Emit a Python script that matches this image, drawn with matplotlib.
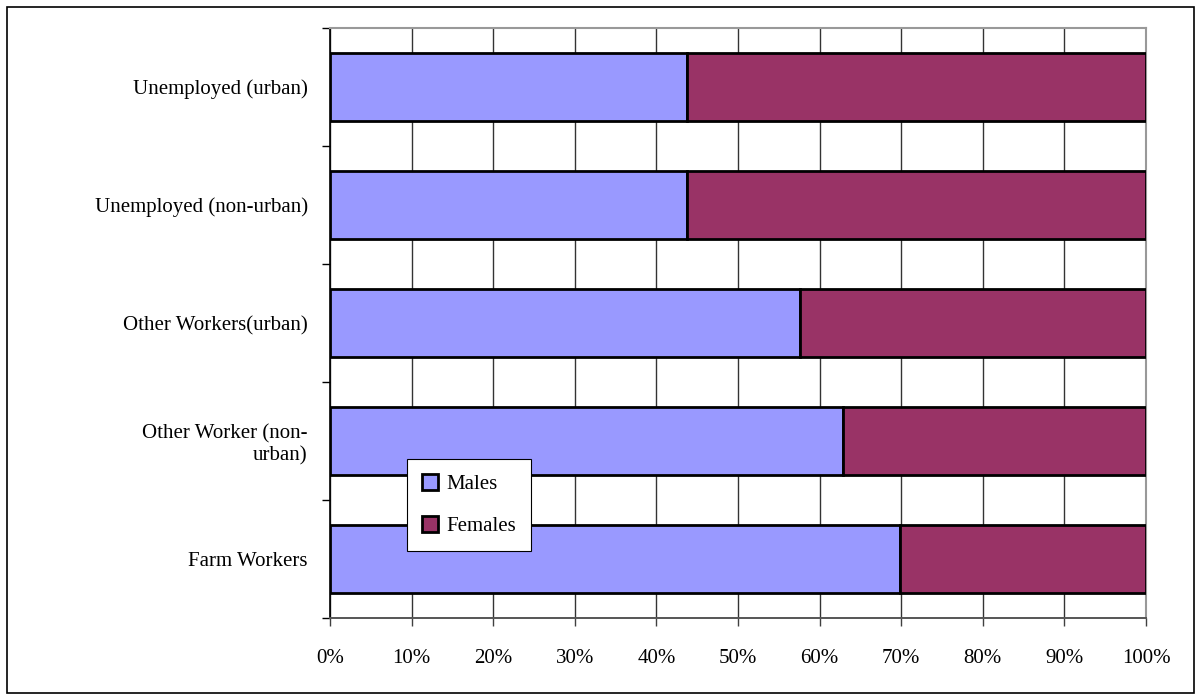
import matplotlib
matplotlib.use("Agg")
import matplotlib.pyplot as plt
from matplotlib.patches import Rectangle
import numpy as np

categories = ["Farm Workers", "Other Worker (non-\nurban)", "Other Workers(urban)",
              "Unemployed (non-urban)", "Unemployed (urban)"]
males = [69.9, 62.9, 57.6, 43.7, 43.7]
females = [30.1, 37.1, 42.4, 56.3, 56.3]
xtick_labels = ["0%", "10%", "20%", "30%", "40%", "50%", "60%", "70%", "80%", "90%", "100%"]

plt.rcParams['font.family'] = ['Liberation Serif', 'DejaVu Serif']

fig = plt.figure(figsize=(12.01, 7.0), dpi=100)
ax = fig.add_axes([330/1201, 1 - 618/700, (1146-330)/1201, (618-28)/700])

y = np.arange(len(categories))
h = 0.58
ax.barh(y, males, height=h, color="#9999FF", edgecolor="black", linewidth=2.0,
        label="Males", zorder=3)
ax.barh(y, females, left=males, height=h, color="#993366", edgecolor="black",
        linewidth=2.0, label="Females", zorder=3)

ax.set_xlim(0, 100)
ax.set_ylim(-0.5, len(categories) - 0.5)
ax.set_xticks(np.arange(0, 101, 10))
ax.set_xticklabels(xtick_labels, fontsize=15)
ax.set_yticks(y)
ax.set_yticklabels(categories, fontsize=15)
ax.set_yticks(np.arange(-0.5, len(categories), 1.0), minor=True)
ax.tick_params(axis='y', which='major', length=0, pad=16)
ax.tick_params(axis='y', which='minor', length=6, width=1, color="black", direction='out')
ax.tick_params(axis='x', which='major', length=6, width=1, color="#404040", pad=16)

ax.xaxis.grid(True, color="#333333", linewidth=1.0, zorder=0)
ax.set_axisbelow(True)

ax.spines['left'].set_color("black")
ax.spines['left'].set_linewidth(1.2)
ax.spines['bottom'].set_color("#555555")
ax.spines['bottom'].set_linewidth(1.4)
ax.spines['top'].set_color("#999999")
ax.spines['top'].set_linewidth(1.5)
ax.spines['right'].set_color("#999999")
ax.spines['right'].set_linewidth(1.5)

leg = ax.legend(loc="lower left", bbox_to_anchor=(0.094, 0.1135), fontsize=15,
                frameon=True, fancybox=False, edgecolor="black", framealpha=1,
                handlelength=0.8, handleheight=0.8, handletextpad=0.4,
                labelspacing=1.05, borderpad=0.72, borderaxespad=0)
leg.get_frame().set_linewidth(0.8)

fig.patches.append(Rectangle((7/1201, 1 - 693/700), (1194-7)/1201, (693-7)/700,
                             transform=fig.transFigure, fill=False,
                             edgecolor="black", linewidth=1.2))

fig.savefig("out.png", dpi=100, facecolor="white")
